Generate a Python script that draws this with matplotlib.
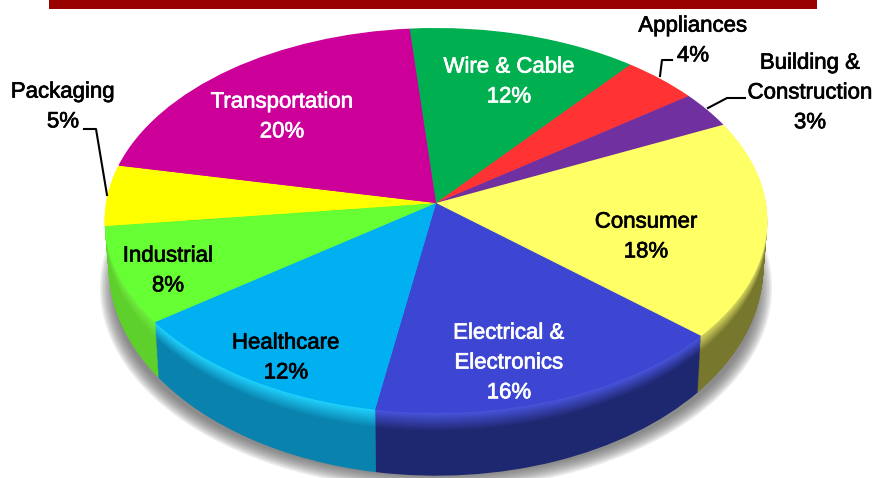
import matplotlib
matplotlib.use("Agg")
import matplotlib.pyplot as plt
import matplotlib.patheffects as pe
from matplotlib.patches import Ellipse, Rectangle
from matplotlib.colors import to_rgb

# slices clockwise from the top, same order as the picture
values = [12, 4, 3, 18, 16, 12, 8, 5, 20]

top_colors = ["#00b050", "#ff3333", "#7030a0", "#ffff66", "#3c46d2",
              "#00b0f0", "#66ff33", "#ffff00", "#cc0099"]
wall_colors = ["#008040", "#c02020", "#502078", "#77772e", "#1e2870",
               "#0a82ae", "#5ed02c", "#d0d000", "#99007a"]
rim_colors = ["#00c060", "#ff5050", "#8040b0", "#d8d860", "#4a55e0",
              "#20d4ff", "#70f040", "#ffff00", "#e000a8"]

label_text = ["Wire & Cable\n12%", "Appliances\n4%", "Building &\nConstruction\n3%", "Consumer\n18%",
              "Electrical &\nElectronics\n16%", "Healthcare\n12%", "Industrial\n8%",
              "Packaging\n5%", "Transportation\n20%"]
label_x = [509, 693, 810, 646, 509, 286, 168, 63, 282]
label_y = [82, 41, 93, 237, 363, 358, 271, 107, 117]
label_colors = ["white", "black", "black", "black", "white", "black", "black", "black", "white"]

W, H = 881, 478
PERSP = 0.0909


def draw_pie(ax, y0, a, b, colors):
    # unit pie, then every vertex goes through a perspective view of the disc
    wedges, _ = ax.pie(values, colors=colors, startangle=95, counterclock=False,
                       center=(0, 0), radius=1)
    for w in wedges:
        w.set_linewidth(0)
        v = w.get_path().vertices
        den = 1 + PERSP * v[:, 1]
        xs = 436 + a * v[:, 0] / den
        ys = y0 - b * v[:, 1] / den
        v[:, 0] = xs
        v[:, 1] = ys
    return wedges


def mix(c1, c2, t):
    a, b = to_rgb(c1), to_rgb(c2)
    return tuple(a[i] + (b[i] - a[i]) * t for i in range(3))


def main():
    plt.rcParams['font.family'] = ['Liberation Sans', 'DejaVu Sans']
    fig = plt.figure(figsize=(W / 100, H / 100), dpi=100)
    ax = fig.add_axes([0, 0, 1, 1])

    # soft shadow under the pie
    for i in range(10):
        s = Ellipse((436, 288), 2 * (336 - i * 1.5), 2 * (202 - i * 1.5),
                    facecolor="#555555", edgecolor="none", alpha=0.1, zorder=0)
        ax.add_patch(s)

    # side wall, built from the bottom layer up
    steps = 50
    for i in range(steps, 0, -1):
        t = i / steps
        y0 = 203 + 45 * t
        a = 330 - 4 * t
        b = 190.9 + 16.1 * t
        if t < 0.3:
            # lighter band just under the rim
            k = 1 - t / 0.3
            cols = [mix(w, c, k) for w, c in zip(wall_colors, rim_colors)]
        else:
            cols = wall_colors
        draw_pie(ax, y0, a, b, cols)

    draw_pie(ax, 203, 330, 190.9, top_colors)

    ax.set_aspect('auto')
    ax.set_xlim(0, W)
    ax.set_ylim(H, 0)
    ax.axis("off")

    # banner, its title is cut off by the top edge
    ax.add_patch(Rectangle((49, 0), 768, 9, facecolor="#990000", edgecolor="none", zorder=5))

    for txt, x, y, c in zip(label_text, label_x, label_y, label_colors):
        ax.text(x, y, txt, color=c, fontsize=16, ha="center", va="center", linespacing=1.55, zorder=6,
                path_effects=[pe.withStroke(linewidth=0.5, foreground=c)])

    # leader lines
    ax.plot([84, 96, 107], [129, 129, 195], color="black", lw=1.5, zorder=6)
    ax.plot([672, 662, 660], [60, 60, 76], color="black", lw=1.5, zorder=6)
    ax.plot([745, 727, 708], [98, 98, 108], color="black", lw=1.5, zorder=6)

    fig.savefig("out.png", dpi=100)
    plt.close()


if __name__ == '__main__':
    main()
